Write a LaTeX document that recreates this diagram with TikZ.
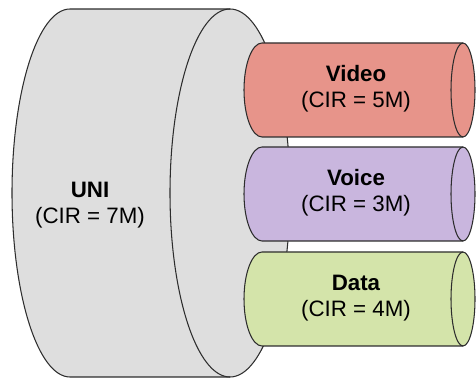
\documentclass[tikz,border=0pt]{standalone}
\usepackage{fontspec}
\setmainfont{Liberation Sans}
\definecolor{uniGray}{RGB}{222,222,222}
\definecolor{videoRed}{RGB}{231,148,138}
\definecolor{voicePurple}{RGB}{201,182,222}
\definecolor{dataGreen}{RGB}{212,228,170}
\definecolor{edgeGray}{RGB}{45,45,45}
\begin{document}
\begin{tikzpicture}[x=0.02cm, y=0.02cm,
    outline/.style={draw=edgeGray, line width=0.6pt},
    lbl/.style={align=center, font=\fontsize{12.7}{14.8}\selectfont, inner sep=0pt}]
\useasboundingbox (0,0) rectangle (476,381);
% UNI cylinder
\draw[outline, fill=uniGray] (70,372) -- (230,372) arc[start angle=90, end angle=-90, x radius=60, y radius=184]
    -- (70,4) arc[start angle=270, end angle=90, x radius=58, y radius=184] -- cycle;
\draw[outline] (230,372) arc[start angle=90, end angle=270, x radius=60, y radius=184];
\node[lbl] (uni) at (90,176) {\textbf{UNI}\\(CIR = 7M)};
% EVC pipes
\foreach \n/\yc/\col/\txt/\cir in {video/291/videoRed/Video/5, voice/187/voicePurple/Voice/3, data/82/dataGreen/Data/4} {
    \draw[outline, fill=\col] (262,\yc+47) -- (463,\yc+47) arc[start angle=90, end angle=-90, x radius=12, y radius=47]
        -- (262,\yc-47) arc[start angle=270, end angle=90, x radius=18, y radius=47] -- cycle;
    \draw[outline] (463,\yc+47) arc[start angle=90, end angle=270, x radius=12, y radius=47];
    \node[lbl] (\n) at (356,\yc+1) {\textbf{\txt}\\(CIR = \cir M)};
}
\end{tikzpicture}
\end{document}
